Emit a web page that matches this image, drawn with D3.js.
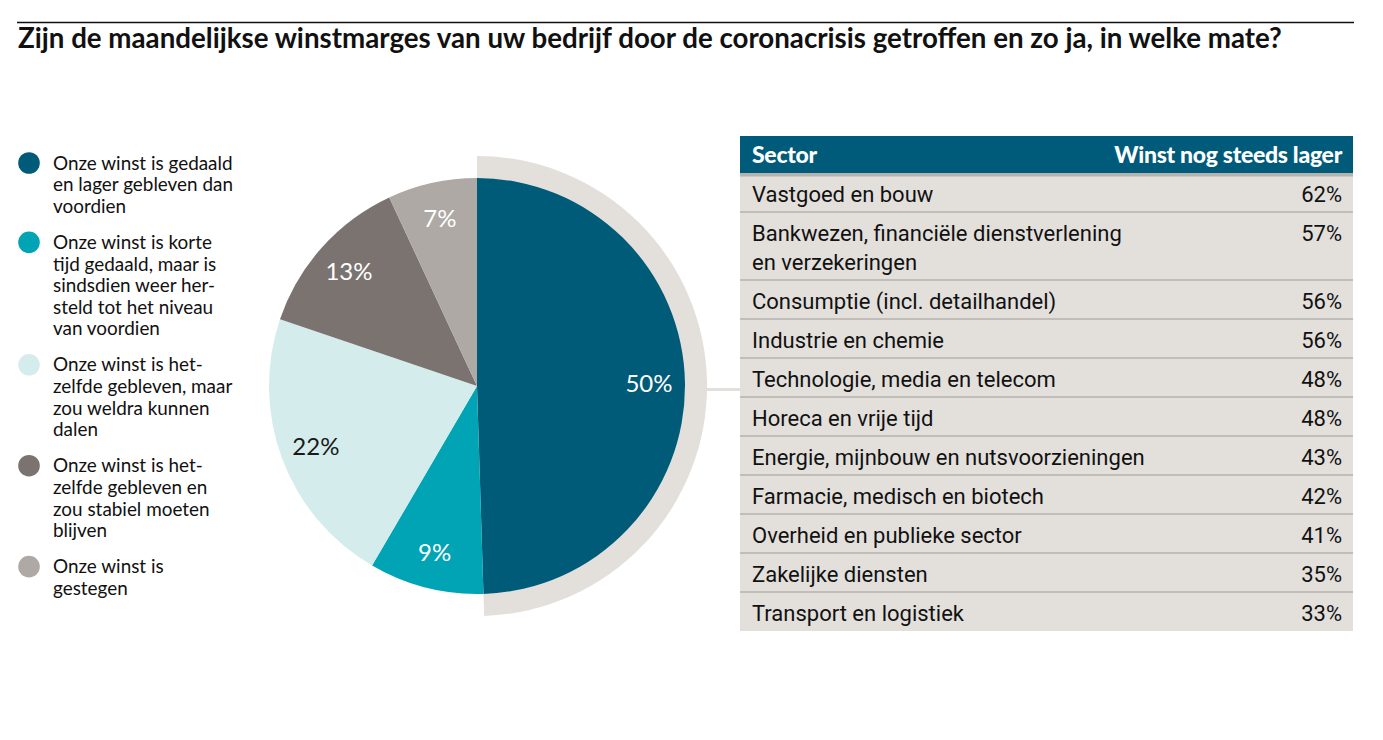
<!DOCTYPE html>
<html>
<head>
<meta charset="utf-8">
<script src="https://cdn.jsdelivr.net/npm/d3@7"></script>
<style>
  html, body { margin: 0; padding: 0; background: #ffffff; }
  svg { display: block; }
</style>
</head>
<body>
<svg id="chart" width="1383" height="740"></svg>
<script>
// ---------- DATA ----------
const title = "Zijn de maandelijkse winstmarges van uw bedrijf door de coronacrisis getroffen en zo ja, in welke mate?";
const categories = [
  "Onze winst is gedaald\nen lager gebleven dan\nvoordien",
  "Onze winst is korte\ntijd gedaald, maar is\nsindsdien weer her-\nsteld tot het niveau\nvan voordien",
  "Onze winst is het-\nzelfde gebleven, maar\nzou weldra kunnen\ndalen",
  "Onze winst is het-\nzelfde gebleven en\nzou stabiel moeten\nblijven",
  "Onze winst is\ngestegen"
];
const values = [50, 9, 22, 13, 7];
const sliceColors = ["#005b79", "#00a4b4", "#d5ecec", "#7a7370", "#aea9a5"];
const labelColors = ["#ffffff", "#ffffff", "#1a1a1a", "#ffffff", "#ffffff"];

const tableHeader = ["Sector", "Winst nog steeds lager"];
const sectors = [
  "Vastgoed en bouw",
  "Bankwezen, financiële dienstverlening\nen verzekeringen",
  "Consumptie (incl. detailhandel)",
  "Industrie en chemie",
  "Technologie, media en telecom",
  "Horeca en vrije tijd",
  "Energie, mijnbouw en nutsvoorzieningen",
  "Farmacie, medisch en biotech",
  "Overheid en publieke sector",
  "Zakelijke diensten",
  "Transport en logistiek"
];
const sectorValues = [62, 57, 56, 56, 48, 48, 43, 42, 41, 35, 33];

// ---------- DRAW ----------
const svg = d3.select("#chart");
const ink = "#111111";

// top rule + title
svg.append("line")
  .attr("x1", 17).attr("x2", 1354).attr("y1", 22.5).attr("y2", 22.5)
  .attr("stroke", "#111").attr("stroke-width", 1.5);

const titleText = svg.append("text")
  .attr("x", 18).attr("y", 48)
  .attr("font-family", "Lato, sans-serif")
  .attr("font-weight", 700)
  .attr("font-size", 23)
  .attr("fill", ink)
  .text(title);
// fit title width to reference extent
(function () {
  const w = titleText.node().getComputedTextLength();
  const target = 1264;
  titleText.attr("font-size", 23 * target / w);
})();

// legend
const legend = svg.append("g").attr("font-family", "Lato, sans-serif").attr("font-size", 18.9).attr("fill", ink);
const lineH = 21.6, gapH = 14.5;
let ly = 163;
categories.forEach((c, i) => {
  const lines = c.split("\n");
  legend.append("circle").attr("cx", 29).attr("cy", ly).attr("r", 10.8).attr("fill", sliceColors[i]);
  const t = legend.append("text").attr("x", 53).attr("y", ly).attr("dy", "0.35em");
  lines.forEach((ln, j) => {
    t.append("tspan").attr("x", 53).attr("y", ly + j * lineH).attr("dy", "0.35em").text(ln);
  });
  ly += lines.length * lineH + gapH;
});

// pie
const cx = 477, cy = 386, R = 208, Rband = 230;
const pie = d3.pie().sort(null).value(d => d);
const arcs = pie(values);
const g = svg.append("g").attr("transform", `translate(${cx},${cy})`);

// background band behind the largest slice
g.append("path")
  .attr("d", d3.arc().innerRadius(0).outerRadius(Rband)({startAngle: arcs[0].startAngle, endAngle: arcs[0].endAngle}))
  .attr("fill", "#e3e0db");

// connector to table
svg.append("line")
  .attr("x1", cx + Rband - 2).attr("x2", 741).attr("y1", 389.5).attr("y2", 389.5)
  .attr("stroke", "#e3e0db").attr("stroke-width", 3);

const arcGen = d3.arc().innerRadius(0).outerRadius(R);
g.selectAll("path.slice").data(arcs).join("path")
  .attr("class", "slice")
  .attr("d", arcGen)
  .attr("fill", (d, i) => sliceColors[i]);

const labelArc = d3.arc().innerRadius(172).outerRadius(172);
g.selectAll("text.lbl").data(arcs).join("text")
  .attr("class", "lbl")
  .attr("transform", d => `translate(${labelArc.centroid(d)})`)
  .attr("text-anchor", "middle")
  .attr("dy", "0.36em")
  .attr("font-family", "Lato, sans-serif")
  .attr("font-size", 24)
  .attr("fill", (d, i) => labelColors[i])
  .text(d => d.data + "%");

// table
const tx0 = 740, tx1 = 1353, tPadL = 12, tPadR = 11;
const headTop = 136, headBot = 173;
svg.append("rect").attr("x", tx0).attr("y", headTop).attr("width", tx1 - tx0).attr("height", headBot - headTop).attr("fill", "#005a79");
svg.append("text").attr("x", tx0 + tPadL).attr("y", (headTop + headBot) / 2).attr("dy", "0.35em")
  .attr("font-family", "Lato, sans-serif").attr("font-weight", 900).attr("font-size", 23).attr("fill", "#fff")
  .attr("letter-spacing", -0.3)
  .text(tableHeader[0]);
svg.append("text").attr("x", tx1 - tPadR).attr("y", (headTop + headBot) / 2).attr("dy", "0.35em")
  .attr("text-anchor", "end")
  .attr("font-family", "Lato, sans-serif").attr("font-weight", 900).attr("font-size", 23).attr("fill", "#fff")
  .attr("letter-spacing", -0.3)
  .text(tableHeader[1]);

const rowLine = 29, rowBase = 39;
const rowHeights = sectors.map(s => rowBase + (s.split("\n").length - 1) * rowLine);
const rowTops = [];
let acc = headBot;
rowHeights.forEach(h => { rowTops.push(acc); acc += h; });
const tableBottom = acc;

svg.append("rect").attr("x", tx0).attr("y", headBot).attr("width", tx1 - tx0).attr("height", tableBottom - headBot).attr("fill", "#e3e0dc");
svg.append("rect").attr("x", tx0).attr("y", headBot).attr("width", tx1 - tx0).attr("height", 3.5).attr("fill", "#b6b2ae");

const rows = svg.append("g").attr("font-family", "Roboto, sans-serif").attr("font-size", 22).attr("fill", ink);
sectors.forEach((s, i) => {
  const top = rowTops[i];
  if (i < sectors.length - 1) {
    rows.append("line").attr("x1", tx0).attr("x2", tx1)
      .attr("y1", top + rowHeights[i]).attr("y2", top + rowHeights[i])
      .attr("stroke", "#b6b2ae").attr("stroke-width", 1.5);
  }
  const t = rows.append("text").attr("x", tx0 + tPadL);
  s.split("\n").forEach((ln, j) => {
    t.append("tspan").attr("x", tx0 + tPadL).attr("y", top + 21.5 + j * rowLine).attr("dy", "0.35em").text(ln);
  });
  rows.append("text").attr("x", tx1 - tPadR).attr("y", top + 21.5).attr("dy", "0.35em")
    .attr("text-anchor", "end").text(sectorValues[i] + "%");
});
</script>
</body>
</html>
